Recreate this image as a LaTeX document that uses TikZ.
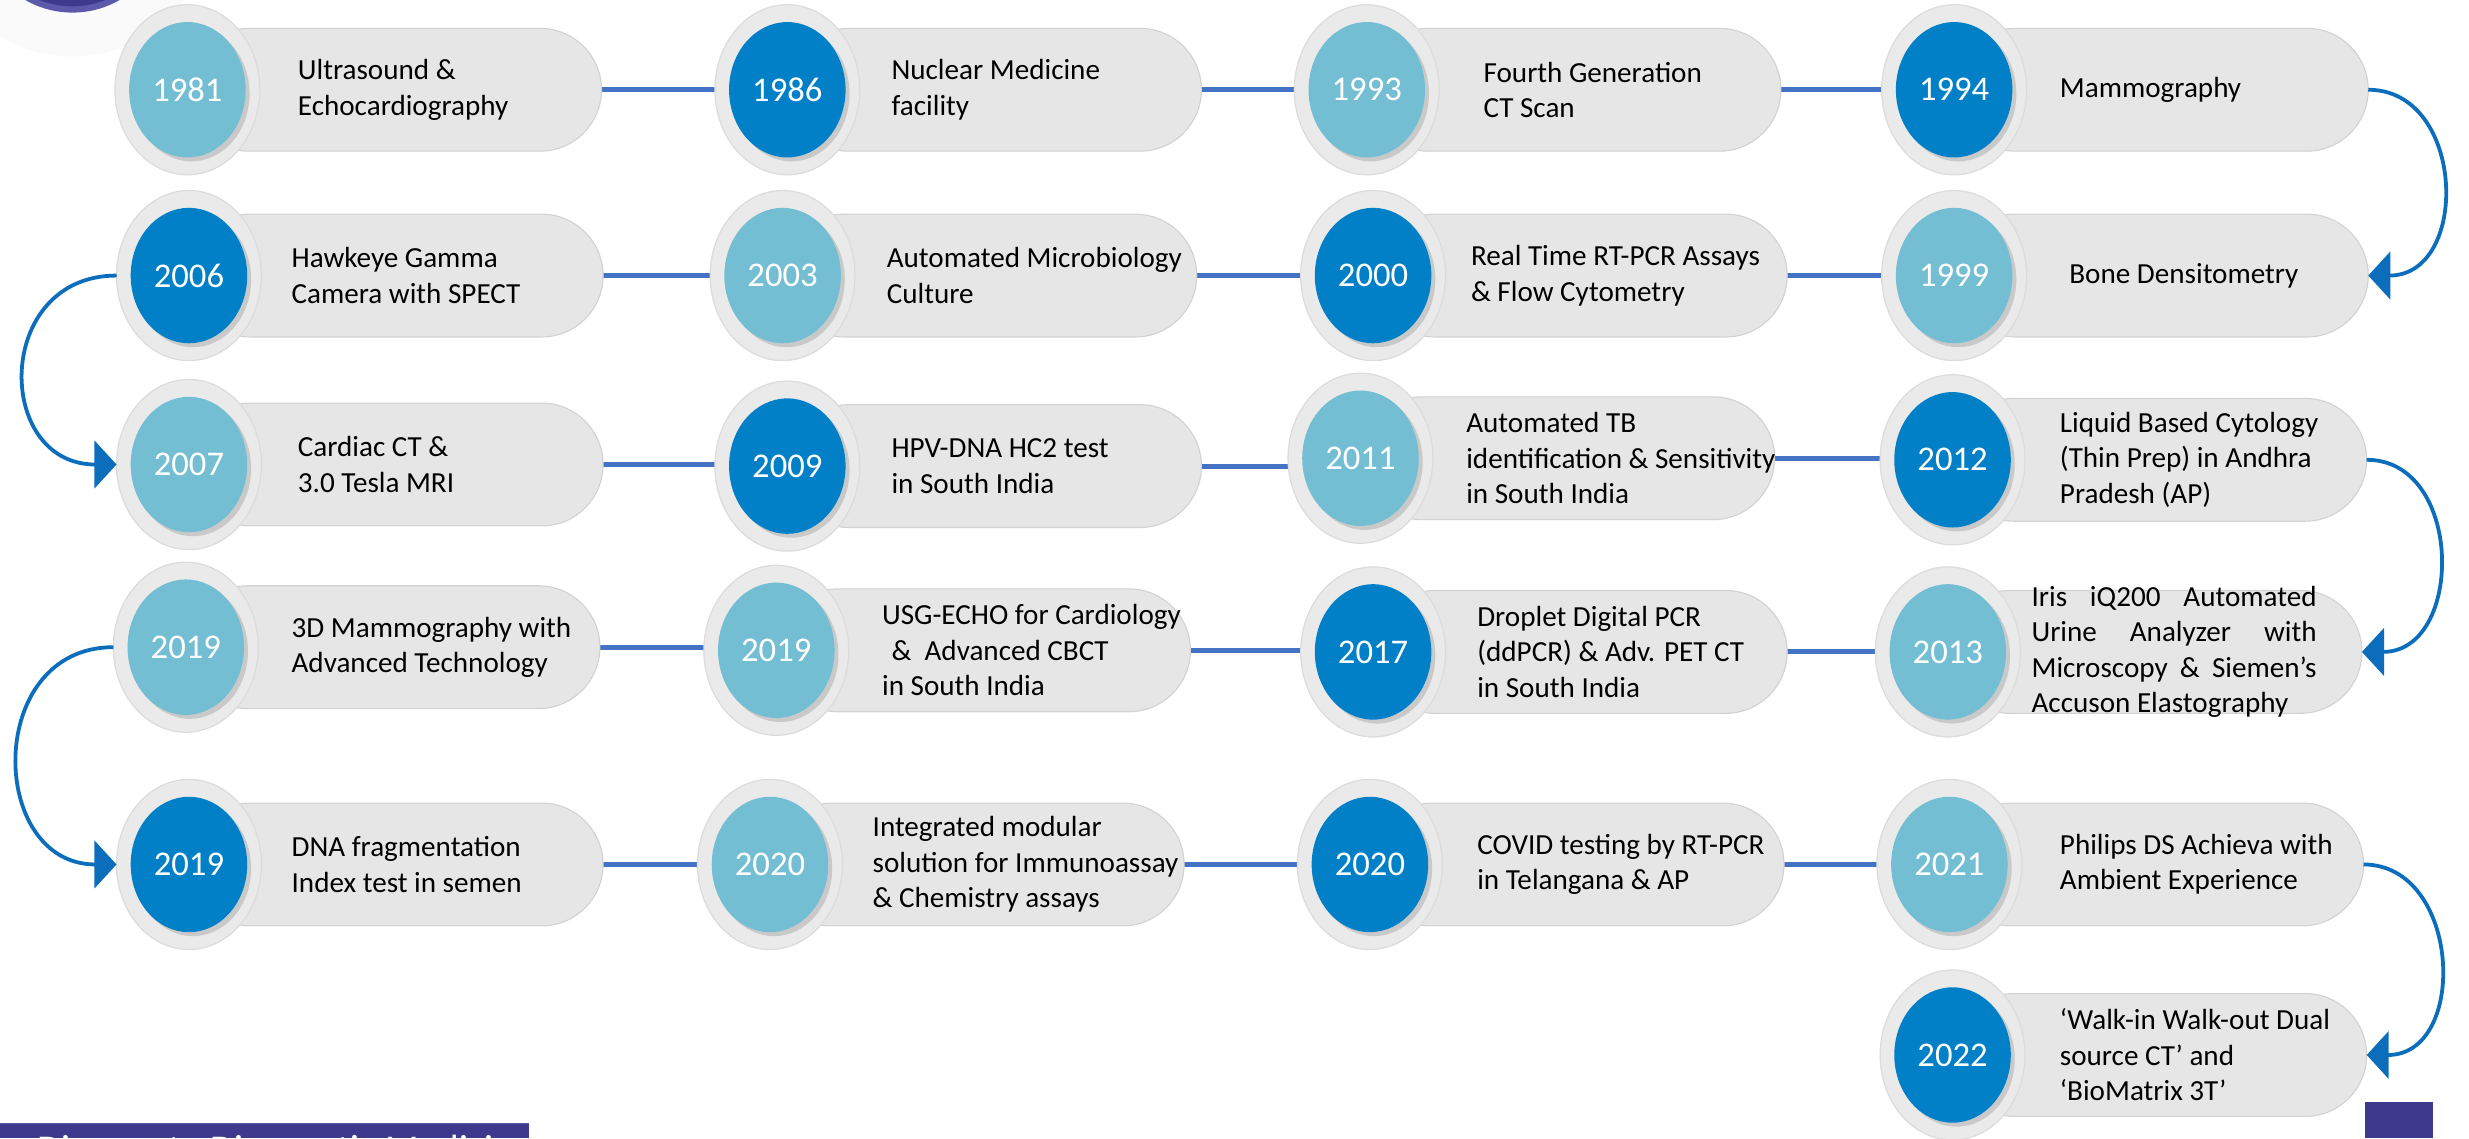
\documentclass[tikz,border=0pt]{standalone}
\usepackage{fontspec}
\setmainfont{Carlito}
\usetikzlibrary{arrows.meta,shapes.geometric}

\definecolor{yearlight}{HTML}{74BED4}
\definecolor{yeardark}{HTML}{0180C8}
\definecolor{pillgrey}{HTML}{E6E6E6}
\definecolor{pilledge}{HTML}{D2D2D2}
\definecolor{ringgrey}{HTML}{EAEAEA}
\definecolor{ringedge}{HTML}{DCDCDC}
\definecolor{discshade}{HTML}{C9C9C9}
\definecolor{linkblue}{HTML}{4472C4}
\definecolor{loopblue}{HTML}{0B6DBB}
\definecolor{brandpurple}{HTML}{3D3A8E}
\definecolor{brandedge}{HTML}{5C58AA}
\definecolor{haze}{HTML}{FAFAFA}

\newcommand\yearfont{\fontsize{22}{24}\selectfont}
\newcommand\descfont{\fontsize{18.5}{22.5}\selectfont}

\pgfdeclarelayer{bg}
\pgfsetlayers{bg,main}

% one milestone: #1 name, #2 centre x, #3 centre y, #4 disc colour,
% #5 year, #6 text x, #7 description
\newcommand\tlentry[7]{%
  \filldraw[pill] (#2,#3-39) rectangle (#2+263,#3+39);
  \filldraw[ring] (#2,#3) ellipse [x radius=46pt, y radius=54pt];
  \fill[discshade] (#2+2.5,#3+2.5) ellipse [x radius=37pt, y radius=43pt];
  \node[disc, fill=#4] (#1) at (#2,#3) {#5};
  \node[desc] (#1-t) at (#6,#3) {#7};
  \coordinate (#1-r) at (#2+263,#3);
  \coordinate (#1-l) at (#2-46,#3);
}

\begin{document}
\begin{tikzpicture}[x=1pt,y=-1pt,
  pill/.style={fill=pillgrey, draw=pilledge, line width=0.7pt, rounded corners=39pt},
  ring/.style={fill=ringgrey, draw=ringedge, line width=0.8pt},
  disc/.style={ellipse, minimum width=74pt, minimum height=86pt, inner sep=0pt,
    text=white, font=\yearfont},
  desc/.style={anchor=west, align=left, inner sep=0pt, font=\descfont},
  hline/.style={draw=linkblue, line width=3.2pt},
  loop/.style={draw=loopblue, line width=2.4pt, -{Triangle[length=14pt,width=30pt]}},
]
\useasboundingbox (0,0) rectangle (1568,723);

% badge peeking in at the top left
\begin{scope}
  \clip (0,0) rectangle (1568,723);
  \fill[haze] (46,-52) circle (88pt);
  \fill[brandedge] (46,-52) circle (60pt);
  \fill[brandpurple] (46,-52) circle (56pt);
\end{scope}

% row 1
\tlentry{e1981}{119}{57}{yearlight}{1981}{189}{Ultrasound \&\\Echocardiography}
\tlentry{e1986}{500}{57}{yeardark}{1986}{566}{Nuclear Medicine\\facility}
\tlentry{e1993}{868}{57}{yearlight}{1993}{942}{Fourth Generation\\CT Scan}
\tlentry{e1994}{1241}{57}{yeardark}{1994}{1308}{Mammography}
% row 2
\tlentry{e2006}{120}{175}{yeardark}{2006}{185}{Hawkeye Gamma\\Camera with SPECT}
\tlentry{e2003}{497}{175}{yearlight}{2003}{563}{Automated Microbiology\\Culture}
\tlentry{e2000}{872}{175}{yeardark}{2000}{934}{Real Time RT-PCR Assays\\\& Flow Cytometry}
\tlentry{e1999}{1241}{175}{yearlight}{1999}{1314}{Bone Densitometry}
% row 3
\tlentry{e2007}{120}{295}{yearlight}{2007}{189}{Cardiac CT \&\\3.0 Tesla MRI}
\tlentry{e2009}{500}{296}{yeardark}{2009}{566}{HPV-DNA HC2 test\\in South India}
\tlentry{e2011}{864}{291}{yearlight}{2011}{931}{Automated TB\\identification \& Sensitivity\\in South India}
\tlentry{e2012}{1240}{292}{yeardark}{2012}{1308}{Liquid Based Cytology\\(Thin Prep) in Andhra\\Pradesh (AP)}
% row 4
\tlentry{e2019a}{118}{411}{yearlight}{2019}{185}{3D Mammography with\\Advanced Technology}
\tlentry{e2019b}{493}{413}{yearlight}{2019}{560}{USG-ECHO for Cardiology\\\hspace*{6pt}\&~~Advanced CBCT\\in South India}
\tlentry{e2017}{872}{414}{yeardark}{2017}{938}{Droplet Digital PCR\\(ddPCR) \& Adv. PET CT\\in South India}
\tlentry{e2013}{1237}{414}{yearlight}{2013}{1290}{\makebox[181pt][s]{Iris iQ200 Automated}\\\makebox[181pt][s]{Urine Analyzer with}\\\makebox[181pt][s]{Microscopy \& Siemen’s}\\Accuson Elastography}
% row 5
\tlentry{e2019c}{120}{549}{yeardark}{2019}{185}{DNA fragmentation\\Index test in semen}
\tlentry{e2020a}{489}{549}{yearlight}{2020}{554}{Integrated modular\\solution for Immunoassay\\\& Chemistry assays}
\tlentry{e2020b}{870}{549}{yeardark}{2020}{938}{COVID testing by RT-PCR\\in Telangana \& AP}
\tlentry{e2021}{1238}{549}{yearlight}{2021}{1308}{Philips DS Achieva with\\Ambient Experience}
% row 6
\tlentry{e2022}{1240}{670}{yeardark}{2022}{1308}{‘Walk-in Walk-out Dual\\source CT’ and\\‘BioMatrix 3T’}

% straight links within each row
\begin{pgfonlayer}{bg}
\foreach \a/\b in {e1981/e1986,e1986/e1993,e1993/e1994,
                   e2006/e2003,e2003/e2000,e2000/e1999,
                   e2007/e2009,e2009/e2011,e2011/e2012,
                   e2019a/e2019b,e2019b/e2017,e2017/e2013,
                   e2019c/e2020a,e2020a/e2020b,e2020b/e2021}
  \draw[hline] (\a-r) -- (\a-r -| \b-l);
\end{pgfonlayer}

% turns between rows
\draw[loop] (e1994-r) .. controls +(62,0) and +(65,0) .. (e1999-r);
\draw[loop] (e2006-l) .. controls +(-78,0) and +(-78,0) .. (e2007-l);
\draw[loop] (e2012-r) .. controls +(62,0) and +(65,0) .. (e2013-r);
\draw[loop] (e2019a-l) .. controls +(-82,0) and +(-82,0) .. (e2019c-l);
\draw[loop] (e2021-r) .. controls +(62,0) and +(65,0) .. (e2022-r);

% footer strip and corner tab
\fill[brandpurple] (0,713) rectangle (336,723);
\draw[brandedge, line width=0.8pt] (0,713.4) -- (336,713.4);
\begin{scope}
  \clip (0,713) rectangle (336,723);
  \node[anchor=base west, inner sep=0pt, text=white, font=\fontsize{25}{30}\selectfont]
    (footer) at (23.5,738) {Disease to Diagnostic Medicine};
\end{scope}
\fill[brandpurple] (1502,700) rectangle (1545,723);
\end{tikzpicture}
\end{document}
